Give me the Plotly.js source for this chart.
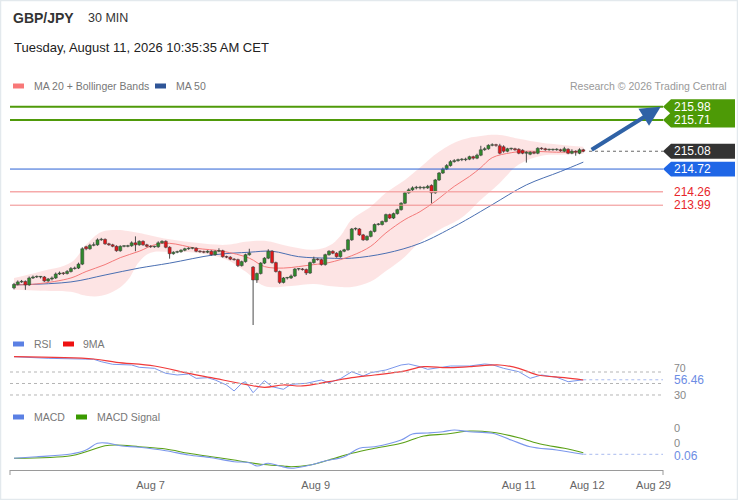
<!DOCTYPE html>
<html><head><meta charset="utf-8">
<script src="https://cdn.plot.ly/plotly-3.0.1.min.js"></script>
<style>html,body{margin:0;padding:0;background:#fff}#chart{width:738px;height:500px}</style>
</head><body><div id="chart"></div>
<script>
// ---- candle data (30 min) ----
const openP = [212.32,212.39,212.44,212.45,212.38,212.52,212.54,212.54,212.54,212.46,
212.50,212.52,212.60,212.62,212.61,212.65,212.71,212.72,212.80,213.15,
213.11,213.18,213.19,213.29,213.30,213.21,213.19,213.16,213.07,213.16,
213.16,213.17,213.23,213.19,213.26,213.19,213.16,213.15,213.15,213.23,
213.26,213.14,213.01,213.04,213.05,213.08,213.11,213.12,213.12,213.06,
213.05,213.04,213.06,212.99,213.06,213.07,212.95,212.94,212.90,212.89,
212.77,212.85,212.99,212.74,212.48,212.61,212.82,212.92,213.06,212.83,
212.65,212.43,212.52,212.52,212.56,212.70,212.70,212.69,212.62,212.83,
212.90,212.89,212.79,212.99,213.06,213.02,212.95,213.06,213.09,213.29,
213.51,213.51,213.39,213.29,213.36,213.46,213.60,213.60,213.66,213.80,
213.73,213.82,213.90,214.03,214.24,214.30,214.34,214.34,214.34,214.34,
214.39,214.24,214.50,214.64,214.72,214.79,214.87,214.89,214.91,214.91,
214.92,214.97,214.94,215.00,215.11,215.13,215.20,215.21,215.19,215.17,
215.08,215.13,215.13,215.12,215.10,215.04,215.02,215.06,215.04,215.14,
215.13,215.11,215.11,215.11,215.11,215.08,215.12,215.04,215.08,215.04,
215.11];
const highP = [212.42,212.47,212.48,212.47,212.55,212.57,212.57,212.56,212.56,212.52,
212.55,212.63,212.65,212.64,212.68,212.74,212.75,212.83,213.14,213.17,
213.21,213.24,213.32,213.33,213.32,213.23,213.21,213.18,213.18,213.18,
213.19,213.26,213.36,213.28,213.28,213.21,213.18,213.17,213.26,213.28,
213.28,213.16,213.06,213.07,213.10,213.13,213.14,213.14,213.14,213.08,
213.07,213.08,213.08,213.08,213.12,213.09,212.97,212.96,212.92,212.91,
212.87,213.01,213.11,212.76,212.63,212.84,212.94,213.10,213.08,212.85,
212.67,212.54,212.54,212.59,212.72,212.72,212.72,212.71,212.85,212.95,
212.92,212.91,213.01,213.08,213.08,213.04,213.08,213.11,213.31,213.53,
213.54,213.53,213.41,213.38,213.48,213.62,213.63,213.68,213.82,213.82,
213.84,213.92,214.05,214.26,214.33,214.37,214.38,214.38,214.37,214.40,
214.41,214.52,214.66,214.75,214.82,214.90,214.92,214.93,214.94,214.95,
214.99,214.99,215.03,215.19,215.16,215.22,215.24,215.23,215.23,215.20,
215.15,215.15,215.15,215.14,215.12,215.08,215.08,215.08,215.16,215.16,
215.15,215.13,215.13,215.14,215.13,215.17,215.14,215.12,215.10,215.14,
215.13];
const lowP = [212.29,212.37,212.42,212.28,212.36,212.50,212.52,212.51,212.44,212.44,
212.47,212.50,212.58,212.58,212.59,212.63,212.69,212.70,212.78,213.08,
213.09,213.16,213.17,213.27,213.19,213.17,213.14,213.05,213.05,213.14,
213.14,213.15,213.06,213.17,213.17,213.14,213.13,213.13,213.13,213.21,
213.12,212.91,212.99,213.02,213.03,213.06,213.09,213.10,213.04,213.03,
213.02,213.02,212.97,212.97,213.04,212.93,212.92,212.88,212.87,212.74,
212.75,212.83,212.97,211.57,212.42,212.59,212.80,212.90,212.81,212.63,
212.40,212.41,212.49,212.50,212.54,212.67,212.67,212.58,212.60,212.81,
212.87,212.77,212.77,212.97,213.00,212.93,212.93,213.04,213.07,213.27,
213.48,213.37,213.27,213.27,213.34,213.44,213.58,213.58,213.64,213.71,
213.71,213.80,213.88,214.01,214.22,214.28,214.31,214.31,214.31,214.32,
214.03,214.22,214.48,214.62,214.70,214.77,214.85,214.87,214.88,214.88,
214.90,214.91,214.92,214.98,215.09,215.11,215.18,215.17,215.02,215.05,
215.06,215.10,215.09,215.02,215.02,214.85,215.00,215.02,215.02,215.11,
215.09,215.09,215.09,215.09,215.07,215.06,215.02,215.02,214.99,215.02,
215.06];
const closeP = [212.39,212.44,212.45,212.38,212.52,212.54,212.54,212.54,212.46,212.50,
212.52,212.60,212.62,212.61,212.65,212.71,212.72,212.80,213.11,213.11,
213.18,213.19,213.29,213.30,213.21,213.19,213.16,213.07,213.16,213.16,
213.17,213.23,213.19,213.26,213.19,213.16,213.15,213.15,213.23,213.26,
213.14,213.01,213.04,213.05,213.08,213.11,213.12,213.12,213.06,213.05,
213.04,213.06,212.99,213.06,213.07,212.95,212.94,212.90,212.89,212.77,
212.85,212.99,213.02,212.48,212.61,212.82,212.92,213.06,212.83,212.65,
212.43,212.52,212.52,212.56,212.70,212.70,212.69,212.62,212.83,212.90,
212.89,212.79,212.99,213.06,213.02,212.95,213.06,213.09,213.29,213.51,
213.51,213.39,213.29,213.36,213.46,213.60,213.60,213.66,213.80,213.73,
213.82,213.90,214.03,214.24,214.30,214.34,214.34,214.34,214.34,214.37,
214.24,214.50,214.64,214.72,214.79,214.87,214.89,214.91,214.91,214.92,
214.97,214.94,215.00,215.11,215.13,215.20,215.21,215.20,215.04,215.08,
215.13,215.13,215.11,215.04,215.04,215.06,215.06,215.04,215.14,215.13,
215.11,215.11,215.11,215.11,215.09,215.13,215.04,215.08,215.06,215.11,
215.08];

// ---- Bollinger band / moving averages (read at sample candles) ----
const bandIdx   = [0,7,15,19,23,27,30,33,36,41,48,56,61,66,73,79,83,86,89,94,98,103,107,112,118,123,128,133,139,144,150];
const bandUpper = [212.52,212.65,212.83,213.19,213.45,213.49,213.47,213.43,213.38,213.30,213.23,213.19,213.25,213.27,213.15,213.09,213.17,213.37,213.70,213.96,214.24,214.50,214.75,215.07,215.31,215.39,215.41,215.33,215.25,215.21,215.17];
const bandLower = [212.28,212.26,212.24,212.16,212.16,212.28,212.48,212.85,213.03,213.05,213.03,212.89,212.65,212.36,212.36,212.40,212.36,212.34,212.34,212.45,212.66,212.95,213.25,213.49,213.74,214.10,214.44,214.81,214.99,215.01,215.03];
const ma20Idx = [0,6,15,19,24,28,33,37,41,48,55,62,66,71,75,79,83,89,94,98,103,107,111,116,120,123,126,131,135,144,150];
const ma20    = [212.38,212.40,212.52,212.65,212.79,212.93,213.06,213.19,213.22,213.12,213.06,212.92,212.75,212.72,212.75,212.79,212.83,212.97,213.16,213.43,213.70,213.86,214.07,214.37,214.57,214.75,214.95,215.05,215.08,215.06,215.08];
const ma50Idx = [0,15,24,33,41,53,62,68,75,83,89,98,107,116,120,126,135,144,150];
const ma50    = [212.38,212.44,212.58,212.72,212.82,212.99,213.04,213.06,212.95,212.92,212.92,213.02,213.22,213.56,213.73,214.00,214.40,214.67,214.86];

// ---- RSI ----
const rsiIdx = [0,9,21,23,26,31,33,37,40,43,46,48,51,53,56,58,60,61,63,65,66,68,71,73,77,81,83,86,89,92,94,98,102,104,107,109,112,115,120,124,126,129,133,136,139,143,146,150];
const rsi    = [96.6,93.8,92.1,87.9,83.4,82.2,78.2,76.4,67.7,64.8,66.5,59.0,60.1,56.1,47.4,37.0,50.3,53.1,34.0,47.4,54.9,44.4,39.9,48.6,50.3,56.1,51.4,58.3,70.5,63.0,68.8,73.5,82.2,83.9,79.2,74.7,78.2,80.4,80.4,83.9,82.7,76.4,70.5,59.0,64.8,60.8,53.1,56.46];
const rsiMaIdx = [0,21,27,37,46,52,61,66,71,76,83,89,95,102,108,114,120,128,133,138,145,150];
const rsiMa    = [96.6,92.6,86.9,80.4,67.7,60.1,48.6,43.4,47.4,45.7,53.1,60.1,64.8,70.5,79.2,77.5,79.2,82.2,76.4,64.8,60.1,56.1];

// ---- MACD ----
const macdIdx = [0,6,15,19,22,25,28,33,40,46,52,58,62,64,67,70,73,77,82,87,91,95,102,105,109,113,116,120,126,131,136,143,150];
const macd    = [0.02,0.036,0.063,0.103,0.17,0.17,0.146,0.13,0.096,0.053,0.026,-0.014,-0.024,-0.057,-0.03,-0.057,-0.08,-0.057,-0.007,0.036,0.12,0.136,0.203,0.263,0.273,0.286,0.303,0.286,0.27,0.203,0.136,0.103,0.06];
const signalIdx = [0,15,19,24,27,33,40,46,52,58,65,71,73,78,83,89,95,102,108,114,120,126,133,139,145,150];
const signal    = [0.02,0.046,0.086,0.146,0.153,0.136,0.113,0.07,0.036,0.003,-0.04,-0.057,-0.064,-0.047,0.003,0.07,0.12,0.17,0.243,0.263,0.293,0.28,0.226,0.16,0.12,0.076];

// ---- levels and ticks ----
const resistance = [215.98, 215.71];
const lastPrice = 215.08;
const pivot = 214.72;
const supports = [214.26, 213.99];
const rsiLast = 56.46;
const macdLastLabel = '0.06';
const macdLast = 0.06;
const tickPos = [36, 79.5, 133, 151, 168.5];
const tickLabels = ['Aug 7','Aug 9','Aug 11','Aug 12','Aug 29'];

const xIdx = openP.map((_, i) => i);

// ---- geometry helpers (pixel -> paper) ----
const W = 738, H = 500, ML = 10, MR = 75;
const PW = W - ML - MR;
const px = x => (x - ML) / PW;
const py = y => 1 - y / H;
const FONT = 'Liberation Sans, Arial, sans-serif';
const PRICE_RANGE = [211.469, 216.216];

// candle wicks (high-low segments) and bodies (bars from the lower of open/close)
const wickX = [], wickY = [];
xIdx.forEach(i => { wickX.push(i, i, null); wickY.push(lowP[i], highP[i], null); });
const bodyBase = openP.map((o, i) => Math.min(o, closeP[i]));
const bodyLen  = openP.map((o, i) => Math.max(Math.abs(closeP[i] - o), 0.012));
const bodyCol  = openP.map((o, i) => closeP[i] >= o ? '#2f8a2c' : '#e3161a');

const traces = [
  {x: bandIdx, y: bandUpper, type:'scatter', mode:'lines', line:{width:0, shape:'spline', smoothing:1.1}, hoverinfo:'skip', xaxis:'x', yaxis:'y'},
  {x: bandIdx, y: bandLower, type:'scatter', mode:'lines', line:{width:0, shape:'spline', smoothing:1.1}, fill:'tonexty', fillcolor:'rgba(252,205,205,0.55)', hoverinfo:'skip', xaxis:'x', yaxis:'y'},
  {x: ma50Idx, y: ma50, type:'scatter', mode:'lines', line:{color:'#4a6fb2', width:1, shape:'spline'}, xaxis:'x', yaxis:'y'},
  {x: ma20Idx, y: ma20, type:'scatter', mode:'lines', line:{color:'#f47a7a', width:1, shape:'spline'}, xaxis:'x', yaxis:'y'},
  {x: wickX, y: wickY, type:'scatter', mode:'lines', line:{color:'#4a4a4a', width:1}, connectgaps:false, xaxis:'x', yaxis:'y'},
  {x: xIdx, y: bodyLen, base: bodyBase, type:'bar', width:0.8, xaxis:'x', yaxis:'y4',
    marker:{color: bodyCol, line:{color:'#3a3a3a', width:0.5}}},
  {x: rsiIdx, y: rsi, type:'scatter', mode:'lines', line:{color:'#7b97ec', width:1}, xaxis:'x', yaxis:'y2'},
  {x: rsiMaIdx, y: rsiMa, type:'scatter', mode:'lines', line:{color:'#f03a3a', width:1.2, shape:'spline'}, xaxis:'x', yaxis:'y2'},
  {x: signalIdx, y: signal, type:'scatter', mode:'lines', line:{color:'#5aa016', width:1.1, shape:'spline'}, xaxis:'x', yaxis:'y3'},
  {x: macdIdx, y: macd, type:'scatter', mode:'lines', line:{color:'#7b97ec', width:1.1, shape:'spline'}, xaxis:'x', yaxis:'y3'}
];

const shapes = [];
const annotations = [];
function hline(yv, yref, color, width, dash, x0){
  shapes.push({type:'line', xref: x0 === undefined ? 'paper' : 'x', yref, x0: x0 === undefined ? 0 : x0, x1: x0 === undefined ? 1 : 171,
    y0: yv, y1: yv, line:{color, width, dash: dash || 'solid'}});
}
function tag(yv, color){
  const h = 0.15;
  const a = 1.0, b = px(671), c = px(735);
  shapes.push({type:'path', xref:'paper', yref:'y', fillcolor:color, line:{width:0},
    path:`M ${a},${yv} L ${b},${yv+h} L ${c},${yv+h} L ${c},${yv-h} L ${b},${yv-h} Z`});
}
function txt(text, x, y, opts){
  annotations.push(Object.assign({text, x, y, xref:'paper', yref:'paper', showarrow:false,
    xanchor:'left', yanchor:'middle', font:{family:FONT, size:11, color:'#666'}}, opts || {}));
}

// level lines
hline(resistance[0], 'y', '#4f9a0a', 2);
hline(resistance[1], 'y', '#4f9a0a', 2);
hline(pivot, 'y', '#2a62d6', 1);
hline(supports[0], 'y', '#f6a9a9', 1.5);
hline(supports[1], 'y', '#f08c8c', 1);
hline(lastPrice, 'y', '#666', 1, 'dot', 151.5);
tag(resistance[1], '#4d9a06');
tag(resistance[0], '#4d9a06');
tag(lastPrice, '#333333');
tag(pivot, '#1f66e6');
const lblX = px(672);
[resistance[0], resistance[1]].forEach(v => txt(v.toFixed(2), lblX, v, {yref:'y', font:{family:FONT, size:12, color:'#fff'}}));
txt(lastPrice.toFixed(2), lblX, lastPrice, {yref:'y', font:{family:FONT, size:12, color:'#fff'}});
txt(pivot.toFixed(2), lblX, pivot, {yref:'y', font:{family:FONT, size:12, color:'#fff'}});
supports.forEach(v => txt(v.toFixed(2), lblX, v, {yref:'y', font:{family:FONT, size:12, color:'#e8262a'}}));

// arrow
annotations.push({x:170.4, y:resistance[0], ax:151.8, ay:lastPrice + 0.01, xref:'x', yref:'y', axref:'x', ayref:'y',
  showarrow:true, arrowhead:2, arrowsize:1, arrowwidth:4, arrowcolor:'#2f62a6', text:''});

// RSI grid + labels
[70, 50, 30].forEach(v => hline(v, 'y2', '#b5b5b5', 1, 'dot'));
hline(rsiLast, 'y2', '#a9bbef', 1, 'dot', 150);
txt('70', lblX, py(367.5), {font:{family:FONT, size:10.5, color:'#888'}});
txt('30', lblX, 30, {yref:'y2', font:{family:FONT, size:11, color:'#888'}});
txt(rsiLast.toFixed(2), lblX, py(380), {font:{family:FONT, size:12, color:'#6d8de4'}});

// MACD labels
hline(macdLast, 'y3', '#a9bbef', 1, 'dot', 150);
txt('0', lblX, py(428), {font:{family:FONT, size:11, color:'#888'}});
txt('0', lblX, py(443), {font:{family:FONT, size:11, color:'#888'}});
txt(macdLastLabel, lblX, py(456), {font:{family:FONT, size:12, color:'#6d8de4'}});

// header
txt('<b>GBP/JPY</b>', px(11), py(18), {font:{family:FONT, size:14, color:'#333'}});
txt('30 MIN', px(86), py(18), {font:{family:FONT, size:12.5, color:'#333'}});
txt('Tuesday, August 11, 2026 10:35:35 AM CET', px(12), py(48), {font:{family:FONT, size:13, color:'#222'}});
txt('Research © 2026 Trading Central', px(729), py(86), {xanchor:'right', font:{family:FONT, size:10.5, color:'#999'}});

// legends
function swatch(x0, x1, yc, color){
  shapes.push({type:'rect', xref:'paper', yref:'paper', x0:px(x0), x1:px(x1), y0:py(yc+2.5), y1:py(yc-2.5), fillcolor:color, line:{width:0}});
}
swatch(13, 24, 86, '#f87878'); txt('MA 20 + Bollinger Bands', px(32), py(86), {font:{family:FONT, size:10.5, color:'#777'}});
swatch(155, 166, 86, '#2f5597'); txt('MA 50', px(174), py(86), {font:{family:FONT, size:10.5, color:'#777'}});
swatch(13, 24, 344, '#5b80e4'); txt('RSI', px(32), py(344), {font:{family:FONT, size:10.5, color:'#777'}});
swatch(63, 74, 344, '#ee1111'); txt('9MA', px(81), py(344), {font:{family:FONT, size:10.5, color:'#777'}});
swatch(13, 24, 417, '#5b80e4'); txt('MACD', px(32), py(417), {font:{family:FONT, size:10.5, color:'#777'}});
swatch(76, 87, 417, '#3a9a00'); txt('MACD Signal', px(95), py(417), {font:{family:FONT, size:10.5, color:'#777'}});

// axis end ticks and frame
shapes.push({type:'line', xref:'paper', yref:'paper', x0:0, x1:0, y0:py(470), y1:py(475), line:{color:'#999', width:1}});
shapes.push({type:'line', xref:'paper', yref:'paper', x0:1, x1:1, y0:py(470), y1:py(475), line:{color:'#999', width:1}});
shapes.push({type:'rect', xref:'paper', yref:'paper', x0:px(0.5), x1:px(737.5), y0:py(499.5), y1:py(0.5), line:{color:'#e3e9ed', width:1.5}, fillcolor:'rgba(0,0,0,0)'});

const layout = {
  width: W, height: H,
  margin: {l: ML, r: MR, t: 0, b: 0},
  paper_bgcolor: '#fff', plot_bgcolor: '#fff',
  showlegend: false,
  barmode: 'overlay',
  font: {family: FONT},
  xaxis: {range: [-1.05, 171], anchor: 'y3', showgrid: false, zeroline: false,
    showline: true, linecolor: '#9a9a9a', linewidth: 1,
    tickmode: 'array', tickvals: tickPos, ticktext: tickLabels,
    ticks: 'outside', ticklen: 5, tickcolor: 'rgba(0,0,0,0)',
    tickfont: {family: FONT, size: 11, color: '#666'},
    rangeslider: {visible: false}, fixedrange: true},
  yaxis: {domain: [0.34, 0.81], range: PRICE_RANGE, visible: false, fixedrange: true},
  yaxis4: {overlaying: 'y', range: PRICE_RANGE, visible: false, anchor: 'x', fixedrange: true},
  yaxis2: {domain: [0.196, 0.296], range: [17.8, 104.8], visible: false, anchor: 'x', fixedrange: true},
  yaxis3: {domain: [0.06, 0.16], range: [-0.097, 0.403], visible: false, anchor: 'x', fixedrange: true},
  shapes, annotations
};

Plotly.newPlot('chart', traces, layout, {staticPlot: true, displayModeBar: false});
</script>
</body></html>
